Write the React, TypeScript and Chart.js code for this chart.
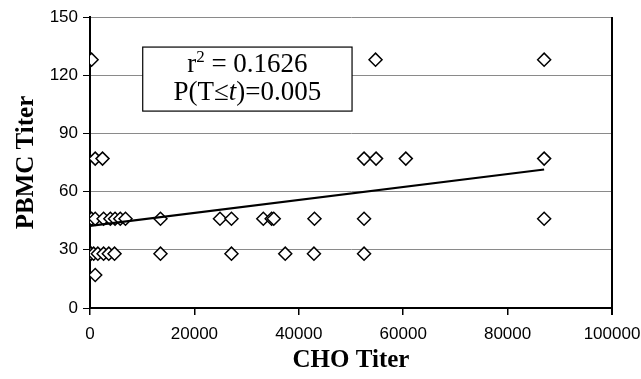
import React, { useEffect, useRef } from "react";
import { Chart, registerables } from "chart.js";

Chart.register(...registerables);

// CHO titer (x) and PBMC titer (y) for each sample
const choTiter = [
  300, 54700, 87000,
  1000, 2400, 52500, 54800, 60500, 87000,
  100, 300, 1000, 2600, 3900, 4800, 5800, 6800, 13500, 24900, 27100, 33200, 34800, 35200, 43000, 52500, 87000,
  0, 200, 700, 1500, 2600, 3600, 4700, 13500, 27100, 37400, 42900, 52500,
  1000,
];
const pbmcTiter = [
  128, 128, 128,
  77, 77, 77, 77, 77, 77,
  46, 46, 46, 46, 46, 46, 46, 46, 46, 46, 46, 46, 46, 46, 46, 46, 46,
  28, 28, 28, 28, 28, 28, 28, 28, 28, 28, 28, 28,
  17,
];
// linear trendline end points
const trendX = [0, 87000];
const trendY = [42.3, 71.4];

const xTicks = [0, 20000, 40000, 60000, 80000, 100000];
const yTicks = [0, 30, 60, 90, 120, 150];

const statLine1 = { base: "r", sup: "2", rest: " = 0.1626" };
const statLine2 = { pre: "P(T\u2264", ital: "t", post: ")=0.005" };
// annotation box in data units: [xLeft, xRight, yTop, yBottom]
const boxData = [10100, 50200, 134.5, 101.5];

const annotationPlugin = {
  id: "statBox",
  afterDatasetsDraw(chart: any) {
    const { ctx, scales } = chart;
    const x = scales.x, y = scales.y;
    const l = x.getPixelForValue(boxData[0]);
    const r = x.getPixelForValue(boxData[1]);
    const t = y.getPixelForValue(boxData[2]);
    const b = y.getPixelForValue(boxData[3]);
    ctx.save();
    ctx.fillStyle = "#fff";
    ctx.fillRect(l, t, r - l, b - t);
    ctx.strokeStyle = "#000";
    ctx.lineWidth = 1.2;
    ctx.strokeRect(l, t, r - l, b - t);
    const cx = (l + r) / 2;
    const h = b - t;
    ctx.fillStyle = "#000";
    ctx.textBaseline = "alphabetic";
    ctx.textAlign = "left";
    const main = "27px 'Liberation Serif'";
    const small = "17px 'Liberation Serif'";
    const ital = "italic 27px 'Liberation Serif'";
    // line 1
    ctx.font = main;
    const w1a = ctx.measureText(statLine1.base).width;
    const w1c = ctx.measureText(statLine1.rest).width;
    ctx.font = small;
    const w1b = ctx.measureText(statLine1.sup).width;
    let sx = cx - (w1a + w1b + w1c) / 2;
    const base1 = t + h * 0.39;
    ctx.font = main;
    ctx.fillText(statLine1.base, sx, base1);
    ctx.font = small;
    ctx.fillText(statLine1.sup, sx + w1a, base1 - 10);
    ctx.font = main;
    ctx.fillText(statLine1.rest, sx + w1a + w1b, base1);
    // line 2
    ctx.font = main;
    const w2a = ctx.measureText(statLine2.pre).width;
    const w2c = ctx.measureText(statLine2.post).width;
    ctx.font = ital;
    const w2b = ctx.measureText(statLine2.ital).width;
    sx = cx - (w2a + w2b + w2c) / 2;
    const base2 = t + h * 0.83;
    ctx.font = main;
    ctx.fillText(statLine2.pre, sx, base2);
    ctx.font = ital;
    ctx.fillText(statLine2.ital, sx + w2a, base2);
    ctx.font = main;
    ctx.fillText(statLine2.post, sx + w2a + w2b, base2);
    ctx.restore();
  },
};

const borderPlugin = {
  id: "rightBorder",
  afterDraw(chart: any) {
    const { ctx, chartArea } = chart;
    ctx.save();
    ctx.strokeStyle = "#000";
    ctx.lineWidth = 2;
    ctx.beginPath();
    ctx.moveTo(chartArea.right, chartArea.top);
    ctx.lineTo(chartArea.right, chartArea.bottom + 7);
    ctx.stroke();
    ctx.restore();
  },
};

export default function App() {
  const ref = useRef<HTMLCanvasElement>(null);
  useEffect(() => {
    if (!ref.current) return;
    const pts = choTiter.map((v, i) => ({ x: v, y: pbmcTiter[i] }));
    const trend = trendX.map((v, i) => ({ x: v, y: trendY[i] }));
    const chart = new Chart(ref.current, {
      type: "scatter",
      data: {
        datasets: [
          {
            type: "line",
            data: trend,
            borderColor: "#000",
            borderWidth: 2.2,
            pointRadius: 0,
            fill: false,
          } as any,
          {
            data: pts,
            pointStyle: "rectRot",
            pointRadius: 6.5,
            borderColor: "#000",
            backgroundColor: "#fff",
            borderWidth: 1.5,
          },
        ],
      },
      options: {
        animation: false,
        responsive: false,
        devicePixelRatio: 1,
        layout: { padding: { top: 17, right: 29, left: 0, bottom: 0 } },
        plugins: { legend: { display: false }, tooltip: { enabled: false } },
        scales: {
          x: {
            type: "linear",
            min: 0,
            max: 100000,
            afterBuildTicks: (s: any) => { s.ticks = xTicks.map((v) => ({ value: v })); },
            afterFit: (s: any) => { s.height = 71; s.paddingRight = 0; s.paddingLeft = 0; },
            border: { color: "#000", width: 2 },
            grid: { drawOnChartArea: false, drawTicks: true, tickLength: 7, color: "#000", lineWidth: 1.5 },
            ticks: {
              color: "#000",
              padding: 9,
              maxRotation: 0,
              autoSkip: false,
              font: { family: "'Liberation Sans'", size: 17 },
              callback: (v: any) => String(v),
            },
            title: {
              display: true,
              text: "CHO Titer",
              color: "#000",
              font: { family: "'Liberation Serif'", size: 25, weight: "bold", lineHeight: 1.2 },
              padding: { top: 0, bottom: 3 },
            },
          },
          y: {
            type: "linear",
            min: 0,
            max: 150,
            afterBuildTicks: (s: any) => { s.ticks = yTicks.map((v) => ({ value: v })); },
            afterFit: (s: any) => { s.width = 90; s.paddingTop = 0; s.paddingBottom = 0; },
            border: { color: "#000", width: 2 },
            grid: { color: "#8a8a8a", lineWidth: 1, tickColor: "#000", tickLength: 7, drawTicks: true },
            ticks: {
              color: "#000",
              padding: 5,
              autoSkip: false,
              font: { family: "'Liberation Sans'", size: 17 },
              callback: (v: any) => String(v),
            },
            title: {
              display: true,
              text: "PBMC Titer",
              color: "#000",
              font: { family: "'Liberation Serif'", size: 25, weight: "bold", lineHeight: 1.2 },
              padding: { top: 12, bottom: 0 },
            },
          },
        },
      },
      plugins: [annotationPlugin, borderPlugin],
    });
    return () => chart.destroy();
  }, []);
  return (
    <div style={{ position: "fixed", left: 0, top: 0, width: 641, height: 379, background: "#fff" }}>
      <canvas ref={ref} width={641} height={379} style={{ width: 641, height: 379, display: "block" }} />
    </div>
  );
}
